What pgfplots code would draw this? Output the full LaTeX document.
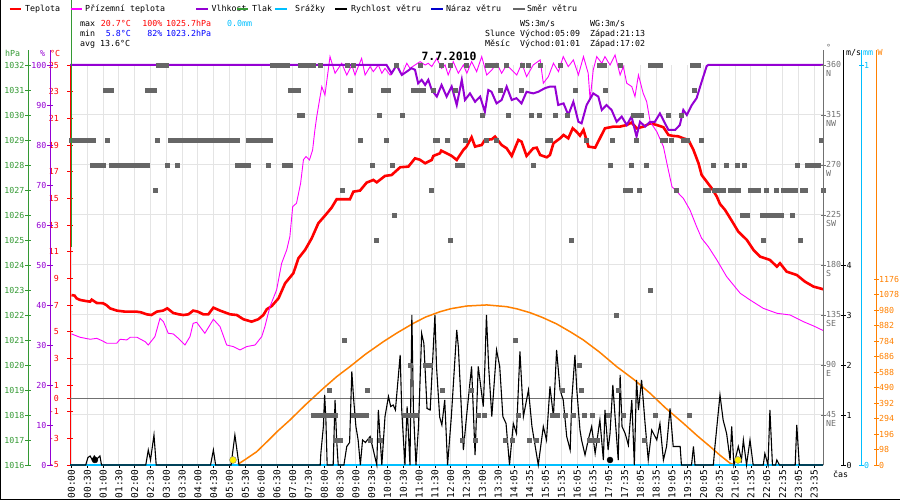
\documentclass[border=0pt]{standalone}
\usepackage{pgfplots}
\pgfplotsset{compat=1.18}
\usepackage{fontspec}
\setmainfont{DejaVu Sans Mono}
\newcommand\ff{\fontsize{8.3bp}{10bp}\selectfont}
\newcommand\fx{\fontsize{9.5bp}{10bp}\selectfont}
\definecolor{tred}{HTML}{FF0000}
\definecolor{tmag}{HTML}{FF00FF}
\definecolor{tpur}{HTML}{9400D3}
\definecolor{tgreen}{HTML}{339933}
\definecolor{tcyan}{HTML}{00BFFF}
\definecolor{tblue}{HTML}{0000CC}
\definecolor{tgray}{HTML}{666666}
\definecolor{torange}{HTML}{FF8000}
\definecolor{gridc}{HTML}{E4E4E4}
\definecolor{zeroc}{HTML}{707070}
\pgfplotsset{
 base/.style={scale only axis, width=753bp, height=400bp, at={(70bp,35bp)}, anchor=south west, xmin=-0.0475, xmax=23.78},
 side/.style={scale only axis, width=1bp, height=415bp, anchor=south west, xmin=0, xmax=1, axis x line=none,
   tick align=center, major tick length=5bp, ticklabel style={font=\ff}, axis line style={-, line width=1bp}},
}
\begin{document}
\begin{tikzpicture}[font=\ff]
\useasboundingbox (0,0) rectangle (900bp,500bp);
% ---------- grid + x axis ----------
\begin{axis}[base, ymin=0, ymax=360, ytick={45,90,...,315}, yticklabels={}, ytick style={draw=none},
  axis x line*=bottom, axis y line=none, x axis line style={-, black, line width=2.5bp},
  xtick={0,0.5,...,23.5}, xtick align=outside, major tick length=3bp,
  xtick style={black, line width=0.8bp},
  grid=major, major grid style={gridc, line width=1bp},
  xticklabel style={rotate=90, anchor=east, font=\fx, inner sep=1.5bp},
  xticklabels={00:00,00:30,01:00,01:30,02:00,02:30,03:00,03:30,04:00,04:30,05:00,05:30,06:00,06:30,07:00,07:30,08:00,08:30,09:00,09:30,10:00,10:30,11:00,11:30,12:00,12:30,13:00,13:30,14:05,14:35,15:05,15:35,16:05,16:35,17:05,17:35,18:05,18:35,19:05,19:35,20:05,20:35,21:05,21:35,22:05,22:35,23:05,23:35}]
\end{axis}
\begin{axis}[base, ymin=0, ymax=360, ytick={45,90,...,315}, yticklabels={}, ytick style={draw=none},
  xtick=\empty, axis line style={draw=none}, ymajorgrids, major grid style={gridc, line width=1bp}]
\end{axis}
% ---------- solar radiation ----------
\begin{axis}[base, hide axis, ymin=0, ymax=2529]
\addplot[torange, line width=1.5bp] coordinates {
(5.23,0)(5.5,35)(5.86,84)(6.2,150)(6.5,210)(6.91,284)(7.4,380)(7.97,485)(8.4,560)(8.81,622)(9.3,700)(9.87,780)(10.3,835)(10.82,896)(11.2,935)(11.66,969)(12.0,988)(12.5,1005)(13.14,1012)(13.77,1001)(14.1,987)(14.51,963)(14.9,933)(15.35,892)(15.8,840)(16.2,790)(16.7,715)(17.25,622)(17.8,540)(18.31,453)(18.8,360)(19.36,264)(19.8,185)(20.21,116)(20.5,65)(20.84,11)(21.0,0)};
\end{axis}
% ---------- temperature ----------
\begin{axis}[base, ymin=-5, ymax=25, axis y line*=left, axis x line=none, clip=false,
  axis line style={-, tred, line width=1bp}, tick align=center, major tick length=5bp,
  ytick={-5,-3,-1,0,1,3,5,7,9,11,13,15,17,19,21,23,25},
  yticklabels={-5,-3,-1,0,1,3,5,7,9,11,13,15,17,19,21,23,25},
  ytick style={tred, line width=0.8bp}, yticklabel style={tred, font=\ff, xshift=-5bp}]
\draw[zeroc, line width=1bp] (-0.0475,0) -- (23.78,0);
\addplot[tred, line width=2.6bp] coordinates {
(0.0,7.75)(0.1,7.7)(0.16,7.5)(0.27,7.38)(0.45,7.3)(0.59,7.25)(0.64,7.4)(0.8,7.15)(1.0,7.13)(1.1,7.0)(1.22,6.75)(1.43,6.58)(1.7,6.5)(2.06,6.5)(2.2,6.45)(2.38,6.3)(2.53,6.25)(2.7,6.5)(2.9,6.58)(3.03,6.75)(3.22,6.4)(3.4,6.3)(3.54,6.25)(3.7,6.3)(3.85,6.58)(4.0,6.5)(4.17,6.3)(4.33,6.3)(4.49,6.8)(4.7,6.58)(5.02,6.3)(5.23,6.25)(5.44,5.93)(5.7,5.75)(5.91,5.93)(6.07,6.25)(6.18,6.68)(6.34,6.93)(6.55,7.5)(6.76,8.63)(7.02,9.38)(7.18,10.5)(7.39,11.13)(7.6,12.0)(7.81,13.13)(8.02,13.7)(8.23,14.3)(8.39,14.93)(8.81,14.93)(8.92,15.5)(9.13,15.58)(9.34,16.18)(9.55,16.38)(9.66,16.2)(9.92,16.68)(10.13,16.75)(10.4,17.33)(10.66,17.38)(10.87,18.0)(11.02,17.9)(11.19,17.63)(11.4,17.88)(11.45,18.18)(11.66,18.38)(11.7,18.58)(11.87,18.38)(12.03,18.18)(12.19,17.88)(12.4,18.63)(12.5,18.88)(12.66,19.58)(12.77,18.88)(12.98,19.0)(13.08,19.38)(13.3,19.43)(13.4,19.63)(13.61,19.0)(13.77,18.75)(13.93,18.18)(14.14,19.38)(14.24,19.25)(14.4,18.18)(14.61,18.75)(14.72,18.8)(14.83,18.25)(15.04,18.08)(15.14,18.25)(15.25,19.13)(15.46,19.5)(15.57,19.75)(15.72,19.5)(15.86,20.25)(15.98,20.0)(16.09,19.7)(16.2,20.13)(16.36,18.88)(16.57,18.8)(16.72,19.5)(16.88,20.25)(17.15,20.38)(17.36,20.38)(17.57,20.5)(17.72,20.68)(17.89,20.25)(18.1,20.38)(18.31,20.63)(18.52,20.5)(18.73,20.33)(18.89,19.75)(19.04,19.68)(19.2,19.65)(19.36,19.5)(19.52,19.38)(19.68,18.63)(19.84,17.63)(19.94,16.75)(20.1,16.25)(20.26,15.75)(20.42,15.13)(20.52,14.58)(20.68,14.13)(20.89,13.33)(21.1,12.5)(21.37,11.88)(21.58,11.13)(21.79,10.63)(22.1,10.38)(22.32,9.88)(22.42,10.13)(22.63,9.5)(22.95,9.25)(23.21,8.75)(23.48,8.38)(23.79,8.18)};
\addplot[tmag, line width=0.9bp] coordinates {
(0.0,4.83)(0.27,4.58)(0.59,4.43)(0.8,4.5)(0.96,4.33)(1.12,4.13)(1.43,4.13)(1.54,4.43)(1.75,4.38)(1.86,4.58)(2.07,4.58)(2.33,4.25)(2.43,4.0)(2.64,4.63)(2.8,6.0)(2.91,5.75)(3.06,4.88)(3.22,4.83)(3.38,4.5)(3.59,4.0)(3.75,4.63)(3.85,5.63)(3.96,5.7)(4.22,4.88)(4.49,5.93)(4.7,5.38)(4.91,4.0)(5.12,3.88)(5.33,3.63)(5.54,3.88)(5.81,4.0)(6.02,4.63)(6.12,5.38)(6.28,6.88)(6.49,8.13)(6.65,10.13)(6.81,11.13)(6.91,12.13)(7.0,14.38)(7.12,14.63)(7.25,16.13)(7.34,17.9)(7.42,18.13)(7.53,17.88)(7.63,18.63)(7.7,20.1)(7.76,21.13)(7.92,23.38)(8.02,22.75)(8.18,25.63)(8.34,24.38)(8.55,25.13)(8.71,24.25)(8.87,25.0)(8.97,24.25)(9.18,25.5)(9.29,24.25)(9.45,24.88)(9.55,24.5)(9.71,25.0)(9.82,24.38)(9.92,24.75)(10.08,24.25)(10.29,25.0)(10.45,24.25)(10.61,25.13)(10.71,24.75)(10.87,25.0)(11.03,25.25)(11.19,25.0)(11.29,25.13)(11.4,24.88)(11.56,25.5)(11.71,24.75)(11.82,25.0)(11.92,24.25)(12.08,25.25)(12.24,24.38)(12.4,25.0)(12.51,24.38)(12.66,25.25)(12.82,24.5)(12.98,25.63)(13.14,24.25)(13.3,24.63)(13.46,25.13)(13.61,24.38)(13.77,25.0)(13.93,24.63)(14.09,24.25)(14.25,25.13)(14.4,24.13)(14.61,25.0)(14.83,25.38)(14.93,23.63)(15.09,24.13)(15.25,25.13)(15.41,24.5)(15.56,25.63)(15.72,24.88)(15.88,25.38)(16.04,24.25)(16.2,25.63)(16.35,24.38)(16.41,22.38)(16.51,24.63)(16.62,25.63)(16.78,25.13)(16.88,25.63)(17.04,25.0)(17.2,25.75)(17.36,24.25)(17.46,24.88)(17.57,23.63)(17.73,23.38)(17.83,22.63)(17.94,24.25)(18.09,22.88)(18.2,22.25)(18.31,20.75)(18.52,20.0)(18.73,18.88)(18.84,17.63)(19.0,15.88)(19.36,15.0)(19.57,14.13)(19.78,12.88)(19.94,12.0)(20.15,11.38)(20.42,10.38)(20.73,9.13)(21.16,7.88)(21.47,7.38)(21.89,6.75)(22.32,6.38)(22.74,6.25)(23.16,5.75)(23.48,5.43)(23.79,5.08)};
\end{axis}
% ---------- humidity ----------
\begin{axis}[base, hide axis, ymin=0, ymax=100, clip=false]
\addplot[tpur, line width=2bp] coordinates {
(-0.0475,100)(9.97,100)(10.13,97.9)(10.29,100)(10.45,97.5)(10.6,98.3)(10.76,99.2)(10.87,98.8)(10.97,95.4)(11.08,96.3)(11.19,95)(11.29,96.3)(11.4,93.75)(11.56,92.1)(11.71,95)(11.87,92.1)(12.03,94.6)(12.19,90)(12.35,96.3)(12.45,91.25)(12.61,92.9)(12.77,90.8)(12.93,92.1)(13.08,88.3)(13.19,93.75)(13.29,93.3)(13.45,90.4)(13.61,91.25)(13.77,94.6)(13.93,91.25)(14.08,91.7)(14.24,90.4)(14.4,93.3)(14.61,92.9)(14.77,93.3)(14.98,94.2)(15.14,94.6)(15.3,94.6)(15.4,90)(15.57,90.4)(15.72,87.5)(15.88,90.8)(16.04,85.8)(16.14,85.4)(16.3,90)(16.51,92.9)(16.67,92.1)(16.78,88.75)(16.93,90)(17.09,88.75)(17.25,85.8)(17.41,87.1)(17.57,85)(17.72,87.1)(17.88,82.1)(17.99,85.8)(18.15,84.6)(18.31,85.8)(18.46,85.8)(18.62,87.9)(18.78,85.4)(18.89,83.75)(19.1,83.75)(19.25,85)(19.36,88.75)(19.47,87.5)(19.63,90)(19.78,91.7)(19.94,95.8)(20.1,99.75)(20.15,100)(23.78,100)};
\end{axis}
% ---------- precipitation + wind speed ----------
\begin{axis}[base, hide axis, ymin=0, ymax=8, clip=false]
\addplot[tcyan, line width=1.2bp] coordinates {(-0.0475,0)(23.78,0)};
\addplot[black, line width=1.1bp] coordinates {
(-0.0475,0)(0.45,0)(0.52,0.15)(0.59,0.18)(0.66,0.1)(0.72,0.18)(0.8,0.12)(0.9,0.18)(0.95,0)(2.35,0)(2.43,0.3)(2.5,0.1)(2.61,0.6)(2.68,0)(4.4,0)(4.49,0.3)(4.56,0)(5.05,0)(5.17,0.6)(5.3,0)(7.87,0)(7.89,0.23)(7.97,0.77)(8.01,1.4)(8.05,0.9)(8.09,0)(8.28,0)(8.34,1.3)(8.39,0.5)(8.44,0)(8.62,0)(8.71,0.37)(8.8,0.45)(8.87,1.87)(8.93,1.3)(9.0,0.77)(9.07,0.5)(9.14,0)(9.21,0.5)(9.3,0.45)(9.45,0.57)(9.55,0.3)(9.66,0)(9.71,1.1)(9.82,0)(9.92,0.97)(10.03,1.37)(10.1,1.17)(10.18,1.2)(10.25,1.1)(10.4,2.2)(10.45,1.1)(10.55,0)(10.62,1.17)(10.71,0)(10.77,3.0)(10.82,1.1)(10.9,0)(10.98,0.77)(11.08,2.63)(11.15,2.43)(11.25,1.13)(11.35,1.1)(11.5,3.0)(11.55,1.97)(11.65,0.96)(11.72,0.8)(11.81,1.3)(11.9,0)(12.02,0.97)(12.19,2.7)(12.24,2.37)(12.4,0.3)(12.5,0.97)(12.66,1.97)(12.77,0.2)(12.87,1.97)(13.03,1.17)(13.08,1.97)(13.13,3.0)(13.2,1.97)(13.3,0.97)(13.45,2.3)(13.55,1.97)(13.65,0.97)(13.75,0.83)(13.86,0)(13.98,0.83)(14.08,0.63)(14.19,2.27)(14.3,0.97)(14.46,1.5)(14.57,0.77)(14.77,0)(14.93,0.77)(15.03,0.5)(15.14,1.57)(15.25,0.97)(15.35,2.3)(15.46,1.5)(15.56,1.3)(15.67,0.57)(15.78,0.3)(15.83,1.3)(15.93,2.2)(15.99,1.5)(16.09,0.7)(16.14,0.5)(16.25,0.2)(16.35,0.5)(16.46,0.77)(16.57,0.23)(16.72,0.9)(16.83,0.1)(16.88,1.1)(16.98,0.3)(17.04,0.63)(17.13,1.6)(17.2,0.97)(17.3,0.1)(17.36,1.8)(17.42,0.77)(17.52,0.63)(17.62,0.4)(17.73,1.3)(17.81,0)(17.88,1.7)(17.94,1.1)(18.04,1.7)(18.15,0.83)(18.25,0.1)(18.36,0.7)(18.52,0.5)(18.62,0.83)(18.73,0.1)(18.83,0.37)(18.94,1.13)(19.04,0.37)(19.26,0.37)(19.3,0)(19.62,0)(19.68,0.37)(19.73,0)(20.31,0)(20.36,0.37)(20.52,1.4)(20.62,0.9)(20.73,0.63)(20.84,0.1)(20.89,0.77)(20.96,0)(21.1,0.37)(21.2,0.1)(21.26,0.5)(21.36,0)(21.47,0.5)(21.57,0)(21.89,0)(21.94,0.23)(22.04,0)(22.1,1.1)(22.18,0)(22.28,0)(22.32,0.1)(22.4,0)(22.9,0)(22.95,0.8)(23.03,0)(23.78,0)};
\addplot[only marks, mark=*, mark size=3bp, black] coordinates {(0.74,0.1)(17.04,0.1)};
\addplot[only marks, mark=*, mark size=3.5bp, draw=black!50, fill=yellow] coordinates {(5.11,0.1)(21.09,0.1)};
\end{axis}
% ---------- wind direction ----------
\begin{axis}[base, hide axis, ymin=0, ymax=360, clip=false]
\addplot[only marks, mark=square*, mark size=2bp, tgray] coordinates {
(2.75,360)(2.85,360)(2.95,360)(3.0,360)(6.34,360)(6.44,360)(6.54,360)(6.64,360)(6.74,360)(6.81,360)(7.25,360)(7.35,360)(7.45,360)(7.55,360)(7.65,360)(7.86,360)(8.71,360)(8.92,360)(10.29,360)(11.03,360)(11.7,360)(11.98,360)(12.5,360)(13.15,360)(13.3,360)(13.45,360)(13.75,360)(14.25,360)(14.45,360)(14.83,360)(15.46,360)(16.7,360)(16.85,360)(17.36,360)(18.31,360)(18.41,360)(18.52,360)(18.62,360)(19.63,360)(19.73,360)(19.84,360)
(1.06,337.5)(1.16,337.5)(1.27,337.5)(2.4,337.5)(2.5,337.5)(2.61,337.5)(6.91,337.5)(7.01,337.5)(7.11,337.5)(7.18,337.5)(8.81,337.5)(9.87,337.5)(10.03,337.5)(10.82,337.5)(10.97,337.5)(11.13,337.5)(11.45,337.5)(12.14,337.5)(13.56,337.5)(14.24,337.5)(15.95,337.5)(16.88,337.5)(19.7,337.5)
(7.2,315)(7.3,315)(9.73,315)(10.45,315)(12.98,315)(13.82,315)(14.54,315)(14.8,315)(15.3,315)(15.7,315)(17.78,315)(17.88,315)(17.98,315)(18.04,315)(18.89,315)(19.29,315)
(0.0,292.5)(0.1,292.5)(0.2,292.5)(0.3,292.5)(0.4,292.5)(0.5,292.5)(0.6,292.5)(0.69,292.5)(1.12,292.5)(2.7,292.5)(3.12,292.5)(3.22,292.5)(3.33,292.5)(3.43,292.5)(3.53,292.5)(3.63,292.5)(3.73,292.5)(3.83,292.5)(3.93,292.5)(4.03,292.5)(4.13,292.5)(4.23,292.5)(4.33,292.5)(4.43,292.5)(4.53,292.5)(4.63,292.5)(4.73,292.5)(4.83,292.5)(4.93,292.5)(5.03,292.5)(5.13,292.5)(5.23,292.5)(5.6,292.5)(5.7,292.5)(5.8,292.5)(5.9,292.5)(6.0,292.5)(6.1,292.5)(6.18,292.5)(6.3,292.5)(9.13,292.5)(9.95,292.5)(11.5,292.5)(11.58,292.5)(11.9,292.5)(12.45,292.5)(13.13,292.5)(13.45,292.5)(15.04,292.5)(15.14,292.5)(16.3,292.5)(17.12,292.5)(17.86,292.5)(18.68,292.5)(18.78,292.5)(18.99,292.5)(19.35,292.5)(19.47,292.5)(19.94,292.5)(23.72,292.5)
(0.64,270)(0.74,270)(0.84,270)(0.94,270)(1.01,270)(1.27,270)(1.37,270)(1.47,270)(1.57,270)(1.67,270)(1.77,270)(1.87,270)(1.97,270)(2.07,270)(2.17,270)(2.27,270)(2.37,270)(2.4,270)(3.04,270)(3.36,270)(5.23,270)(5.33,270)(5.43,270)(5.53,270)(5.6,270)(6.21,270)(6.72,270)(6.82,270)(6.91,270)(9.53,270)(10.14,270)(12.19,270)(12.35,270)(14.6,270)(17.04,270)(17.7,270)(18.2,270)(20.29,270)(20.71,270)(21.05,270)(21.28,270)(22.95,270)(23.27,270)(23.37,270)(23.47,270)(23.57,270)(23.63,270)
(2.64,247.5)(8.55,247.5)(11.38,247.5)(17.52,247.5)(17.67,247.5)(17.96,247.5)(19.15,247.5)(20.05,247.5)(20.15,247.5)(20.35,247.5)(20.45,247.5)(20.55,247.5)(20.63,247.5)(20.84,247.5)(20.94,247.5)(21.0,247.5)(21.1,247.5)(21.47,247.5)(21.62,247.5)(21.73,247.5)(21.97,247.5)(22.29,247.5)(22.53,247.5)(22.63,247.5)(22.74,247.5)(22.9,247.5)(23.11,247.5)(23.21,247.5)(23.79,247.5)
(10.2,225)(21.21,225)(21.37,225)(21.84,225)(21.94,225)(22.04,225)(22.14,225)(22.24,225)(22.34,225)(22.44,225)(22.47,225)(22.8,225)
(9.64,202.5)(11.98,202.5)(15.8,202.5)(21.89,202.5)(23.06,202.5)
(18.31,157.5)(17.23,135)(8.62,112.5)(14.03,112.5)
(10.71,90)(11.19,90)(11.35,90)(16.06,90)
(8.16,67.5)(9.37,67.5)(11.72,67.5)(12.66,67.5)(15.54,67.5)(16.12,67.5)(17.3,67.5)
(7.65,45)(7.75,45)(7.86,45)(7.92,45)(8.0,45)(8.08,45)(8.16,45)(8.26,45)(8.34,45)(8.92,45)(9.0,45)(9.08,45)(9.18,45)(9.25,45)(9.32,45)(10.55,45)(10.63,45)(10.71,45)(10.87,45)(12.87,45)(13.05,45)(14.14,45)(15.2,45)(15.37,45)(15.62,45)(15.88,45)(16.22,45)(16.47,45)(16.99,45)(17.46,45)(18.47,45)(19.55,45)
(8.34,22.5)(8.42,22.5)(8.5,22.5)(9.45,22.5)(9.78,22.5)(12.35,22.5)(12.79,22.5)(13.72,22.5)(13.96,22.5)(14.48,22.5)(14.72,22.5)(16.39,22.5)(16.5,22.5)(16.62,22.5)(18.12,22.5)};
\end{axis}
% ---------- left side axes ----------
\begin{axis}[side, at={(28bp,35bp)}, axis y line*=left, ymin=1016, ymax=1032.6,
  axis line style={tgreen}, ytick={1016,...,1032}, ytick style={tgreen},
  yticklabels={1016,1017,1018,1019,1020,1021,1022,1023,1024,1025,1026,1027,1028,1029,1030,1031,1032},
  yticklabel style={tgreen, inner sep=1bp}]
\end{axis}
\begin{axis}[side, at={(50bp,35bp)}, axis y line*=left, ymin=0, ymax=103.75,
  axis line style={tpur}, ytick={0,10,...,100}, ytick style={tpur},
  yticklabels={0,10,20,30,40,50,60,70,80,90,100},
  yticklabel style={tpur, inner sep=1bp}]
\end{axis}
% ---------- right side axes ----------
\begin{axis}[side, at={(822bp,35bp)}, axis y line*=right, ymin=0, ymax=373.5,
  axis line style={zeroc}, ytick={45,90,...,360}, ytick style={zeroc},
  yticklabels={{45\\NE},{90\\E},{135\\SE},{180\\S},{225\\SW},{270\\W},{315\\NW},{360\\N}},
  yticklabel style={zeroc, align=left, anchor=north west, inner sep=0bp, yshift=4bp, xshift=0.5bp, font=\fontsize{8.3bp}{9bp}\selectfont}]
\end{axis}
\begin{axis}[side, at={(842bp,35bp)}, axis y line*=right, ymin=0, ymax=8.3,
  axis line style={black}, ytick={0,1,2,3,4}, ytick style={black},
  yticklabels={0,1,2,3,4}, yticklabel style={black, inner sep=1bp}]
\end{axis}
\begin{axis}[side, at={(860bp,35bp)}, axis y line*=right, ymin=0, ymax=1.0375,
  axis line style={tcyan}, ytick={0,1}, ytick style={tcyan},
  yticklabels={0,1}, yticklabel style={tcyan, inner sep=0.5bp}]
\end{axis}
\begin{axis}[side, at={(875bp,35bp)}, axis y line*=right, ymin=0, ymax=2624,
  axis line style={torange}, ytick={0,98,196,294,392,490,588,686,784,882,980,1078,1176}, ytick style={torange},
  yticklabels={0,98,196,294,392,490,588,686,784,882,980,1078,1176}, yticklabel style={torange, inner sep=0.5bp}]
\end{axis}
\begin{scope}[x=1bp,y=1bp]
% ---------- frame, separators ----------
\draw[tgreen, line width=1bp] (71.8,500) -- (71.8,253);
\draw[black, line width=1.5bp] (0.75,0) -- (0.75,500);
\draw[black, line width=1.5bp] (0,0.75) -- (900,0.75);
% ---------- legend ----------
\begin{scope}[every node/.style={anchor=base west, inner sep=0pt}]
\draw[tred, line width=2.5bp] (9.6,491) -- (21,491);
\node at (25,488) {Teplota};
\draw[tmag, line width=2.5bp] (71,491) -- (82,491);
\node at (85,488) {Přízemní teplota};
\draw[tpur, line width=2.5bp] (196,491) -- (207.5,491);
\node at (211.5,488) {Vlhkost};
\draw[tgreen, line width=2.5bp] (236.5,491) -- (248,491);
\node at (252,488) {Tlak};
\draw[tcyan, line width=2.5bp] (275,491) -- (286.5,491);
\node at (295,488) {Srážky};
\draw[black, line width=2.5bp] (335,491) -- (346.5,491);
\node at (351,488) {Rychlost větru};
\draw[tblue, line width=2.5bp] (431,491) -- (442.5,491);
\node at (446,488) {Náraz větru};
\draw[tgray, line width=2.5bp] (513,491) -- (524.5,491);
\node at (527,488) {Směr větru};
% stats
\node at (80,473) {max};
\node[text=tred] at (100.8,473) {20.7°C};
\node[text=tred] at (142.3,473) {100\%};
\node[text=tred] at (166,473) {1025.7hPa};
\node[text=tcyan] at (227,473) {0.0mm};
\node at (80,463) {min};
\node[text=blue] at (105.8,463) {5.8°C};
\node[text=blue] at (147.3,463) {82\%};
\node[text=blue] at (166,463) {1023.2hPa};
\node at (80,453) {avg 13.6°C};
\node at (520,473) {WS:3m/s};
\node at (590,473) {WG:3m/s};
\node at (485,463) {Slunce};
\node at (520,463) {Východ:05:09};
\node at (590,463) {Západ:21:13};
\node at (485,453) {Měsíc};
\node at (520,453) {Východ:01:01};
\node at (590,453) {Západ:17:02};
% units
\node[text=tgreen] at (5,443) {hPa};
\node[text=tpur] at (40,443) {\%};
\node[text=tred] at (50,443) {°C};
\node[text=zeroc] at (826,449) {°};
\node at (846,444) {m/s};
\node[text=tcyan] at (863,444) {mm};
\node[text=torange] at (877.5,444) {W};
\node at (833,23) {čas};
\end{scope}
\node[anchor=base, inner sep=0pt, font=\fontsize{11.4bp}{13bp}\selectfont\bfseries] at (449,439) {7.7.2010};
\end{scope}
\end{tikzpicture}
\end{document}
